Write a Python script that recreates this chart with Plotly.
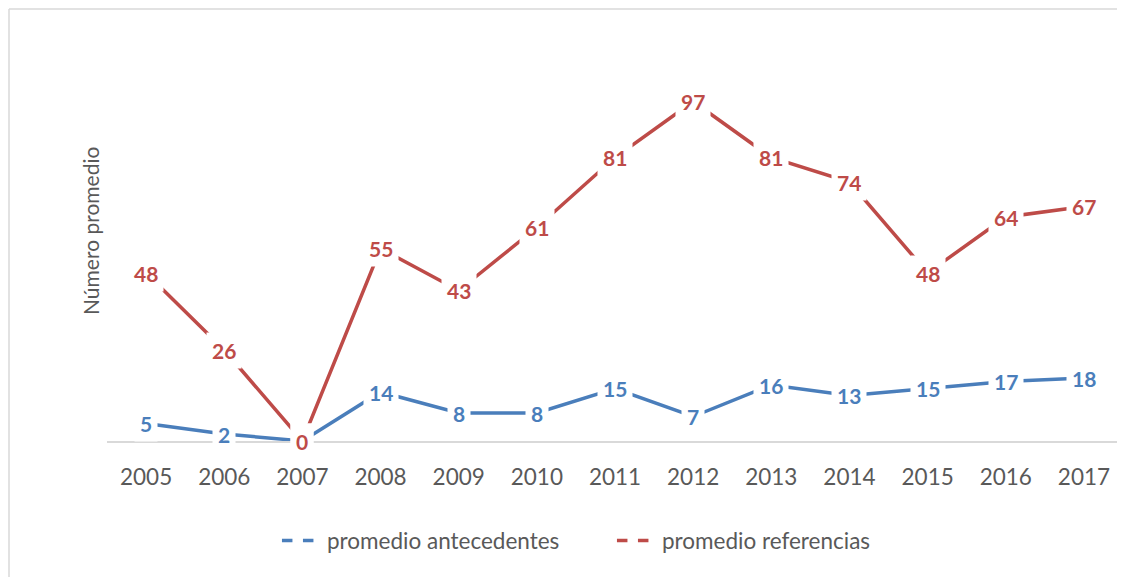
import plotly.graph_objects as go

years = ["2005", "2006", "2007", "2008", "2009", "2010", "2011", "2012", "2013", "2014", "2015", "2016", "2017"]
antecedentes = [5, 2, 0, 14, 8, 8, 15, 7, 16, 13, 15, 17, 18]
referencias = [48, 26, 0, 55, 43, 61, 81, 97, 81, 74, 48, 64, 67]

BLUE = "#4A7EBB"
RED = "#BE4B48"
FONT = "Lato, 'Open Sans', sans-serif"

fig = go.Figure()
fig.add_trace(go.Scatter(x=years, y=antecedentes, mode="lines", line=dict(color=BLUE, width=3.5),
                         showlegend=False, hoverinfo="skip"))
fig.add_trace(go.Scatter(x=years, y=referencias, mode="lines", line=dict(color=RED, width=3.5),
                         showlegend=False, hoverinfo="skip"))
# legend entries (dashed symbols as in the original)
fig.add_trace(go.Scatter(x=[years[0]], y=[None], mode="lines", name="promedio antecedentes",
                         line=dict(color=BLUE, width=3.5, dash="dash")))
fig.add_trace(go.Scatter(x=[years[0]], y=[None], mode="lines", name="promedio referencias",
                         line=dict(color=RED, width=3.5, dash="dash")))

annotations = []
for series, color in ((antecedentes, BLUE), (referencias, RED)):
    for i, yv in enumerate(series):
        annotations.append(dict(x=i, y=yv, xref="x", yref="y", text=f"<b>{yv}</b>", showarrow=False,
                                font=dict(family=FONT, size=21, color=color), bgcolor="white",
                                borderpad=5, xanchor="center", yanchor="middle"))
annotations.append(dict(xref="paper", yref="paper", x=0, y=0.5, xshift=-17, text="Número promedio",
                        textangle=-90, showarrow=False, font=dict(family=FONT, size=21, color="#595959"),
                        xanchor="center", yanchor="middle"))

W, H = 1117, 569
L, R, T, B = 99, 2, 13, 136
pw, ph = W - L - R, H - T - B

fig.update_layout(
    width=W, height=H,
    margin=dict(l=L, r=R, t=T, b=B),
    paper_bgcolor="white", plot_bgcolor="white",
    font=dict(family=FONT, color="#595959"),
    xaxis=dict(type="category", categoryorder="array", categoryarray=years, range=[-0.5, 12.5],
               showgrid=False, showline=True, linecolor="#D9D9D9", linewidth=1.5,
               tickfont=dict(size=22.5, color="#595959"), ticks="outside", ticklen=0,
               ticklabelstandoff=15, zeroline=False, fixedrange=True),
    yaxis=dict(range=[0, 120], showgrid=False, showticklabels=False, zeroline=False, showline=False,
               fixedrange=True),
    legend=dict(orientation="h", x=0.497, y=-0.238, xanchor="center", yanchor="middle",
                font=dict(size=22.5, color="#595959"), itemwidth=40,
                entrywidth=280, entrywidthmode="pixels"),
    annotations=annotations,
    shapes=[
        dict(type="line", xref="paper", yref="paper", x0=(1 - L) / pw, x1=1.2, y0=(ph + T - 1) / ph,
             y1=(ph + T - 1) / ph, line=dict(color="#D9D9D9", width=1.5)),
        dict(type="line", xref="paper", yref="paper", x0=(1 - L) / pw, x1=(1 - L) / pw,
             y0=(ph + T - 1) / ph, y1=-(B + 10) / ph, line=dict(color="#D9D9D9", width=1.5)),
    ],
)

fig.write_html("out.html")
